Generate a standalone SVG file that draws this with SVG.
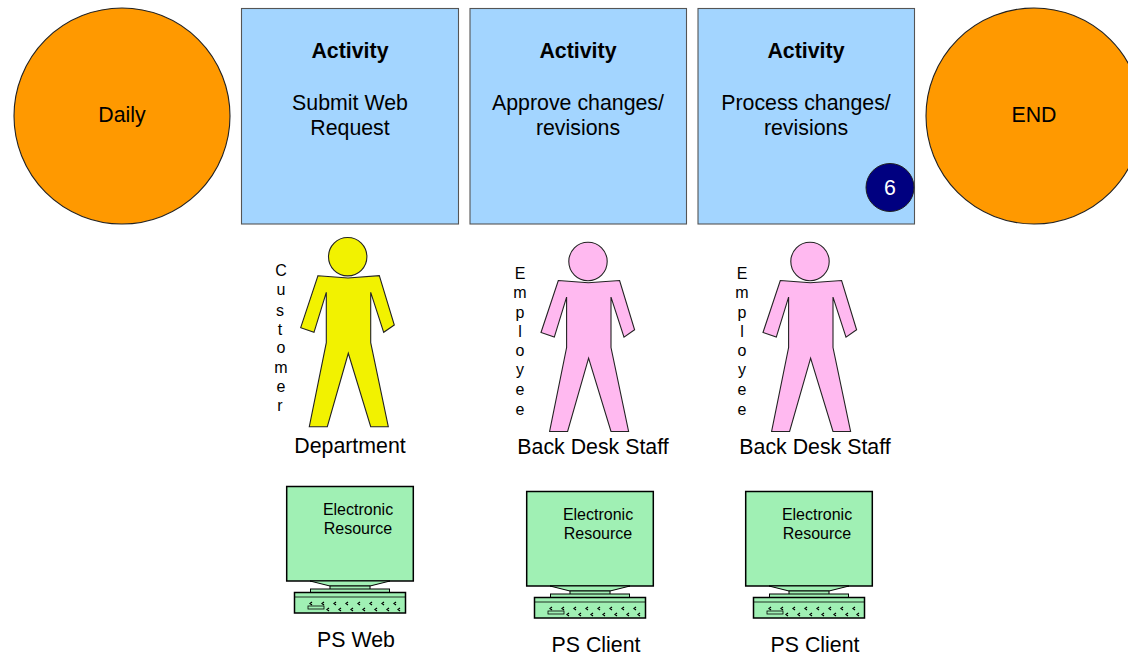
<svg xmlns="http://www.w3.org/2000/svg" width="1128" height="655" viewBox="0 0 1128 655">
<style>
text{font-family:"Liberation Sans",Arial,sans-serif;fill:#000}
.t{font-size:21.330px;text-anchor:middle}
.b{font-weight:bold}
.v{font-size:16px;text-anchor:middle}
.e{font-size:16px;text-anchor:middle}
.box{fill:#a3d5ff;stroke:#555;stroke-width:1.1}
.circ{fill:#ff9900;stroke:#222;stroke-width:1.1}
.p{stroke:#222;stroke-width:1.1;stroke-linejoin:miter}
.k{fill:#a0f0b4;stroke:#000}
.key{fill:none;stroke:#000;stroke-width:1.2}
</style>
<defs>
<g id="person">
<circle cx="347.7" cy="256.7" r="19.2"/>
<path d="M318 275.7L348 278L379.3 275.7L394.3 325L383.7 332.3L370.7 292.3V342.7L388.3 426.7H370.7L348.3 353.3L327.3 426.7H309.3L326.3 342.7V292.3L314 332.3L300.7 327.7Z"/>
</g>
<g id="pc">
<rect class="k" x="286.7" y="486.5" width="126.6" height="94.5" stroke-width="1.5"/>
<path class="k" stroke-width="1" d="M310 581L330 586H370L390 581Z"/>
<rect class="k" x="330" y="586" width="40" height="3.500" stroke-width="1"/>
<rect class="k" x="310.500" y="589" width="79" height="3.500" stroke-width="1"/>
<rect class="k" x="294.500" y="592.500" width="111" height="20.500" stroke-width="1.500"/>
<path class="k" stroke-width="0.800" d="M295 597H405"/>
<rect class="k" x="308" y="606" width="16" height="3" stroke-width="0.800"/>
<path class="key" d="M312 602l-2 1.500 2 1.500M324 602l-2 1.500 2 1.500M336 602l-2 1.500 2 1.500M348 602l-2 1.500 2 1.500M360 602l-2 1.500 2 1.500M372 602l-2 1.500 2 1.500M384 602l-2 1.500 2 1.500M396 602l-2 1.500 2 1.500M329 608l-2 1.500 2 1.500M341 608l-2 1.500 2 1.500M353 608l-2 1.500 2 1.500M365 608l-2 1.500 2 1.500M377 608l-2 1.500 2 1.500M389 608l-2 1.500 2 1.500M400 608l-2 1.500 2 1.500"/>
<text class="e" x="358" y="515">Electronic</text>
<text class="e" x="358" y="534">Resource</text>
</g>
</defs>
<g id="connectors"></g>
<g id="start"><circle class="circ" cx="122" cy="116" r="108"/><text class="t" x="122" y="122">Daily</text></g>
<g id="end"><circle class="circ" cx="1034" cy="116" r="108"/><text class="t" x="1034" y="122">END</text></g>
<g id="activity1"><rect class="box" x="241.500" y="8.500" width="217" height="215.500"/><text class="t b" x="350" y="58">Activity</text><text class="t" x="350" y="110">Submit Web</text><text class="t" x="350" y="135">Request</text></g>
<g id="activity2"><rect class="box" x="470" y="8.500" width="216.500" height="215.500"/><text class="t b" x="578" y="58">Activity</text><text class="t" x="578" y="110">Approve changes/</text><text class="t" x="578" y="135">revisions</text></g>
<g id="activity3"><rect class="box" x="698" y="8.500" width="216.500" height="215.500"/><text class="t b" x="806" y="58">Activity</text><text class="t" x="806" y="110">Process changes/</text><text class="t" x="806" y="135">revisions</text></g>
<g id="badge"><circle cx="890" cy="187.500" r="24" fill="#000080" stroke="#222"/><text class="t" x="890" y="195" style="fill:#fff">6</text></g>
<g id="customer"><use href="#person" fill="#f2f200" class="p"/>
<text class="v" x="281" y="276">C</text><text class="v" x="281" y="295">u</text><text class="v" x="280" y="316">s</text><text class="v" x="280" y="335">t</text><text class="v" x="281" y="353">o</text><text class="v" x="281" y="373">m</text><text class="v" x="281" y="392">e</text><text class="v" x="280" y="411">r</text>
<text class="t" x="350" y="453">Department</text></g>
<g id="employee1"><use href="#person" x="240.300" y="4.800" fill="#ffb9f0" class="p"/>
<text class="v" x="520" y="279">E</text><text class="v" x="520" y="298">m</text><text class="v" x="520" y="318">p</text><text class="v" x="520" y="337">l</text><text class="v" x="520" y="356">o</text><text class="v" x="520" y="375">y</text><text class="v" x="520" y="395">e</text><text class="v" x="520" y="415">e</text>
<text class="t" x="593" y="454">Back Desk Staff</text></g>
<g id="employee2"><use href="#person" x="462.300" y="4.800" fill="#ffb9f0" class="p"/>
<text class="v" x="742" y="279">E</text><text class="v" x="742" y="298">m</text><text class="v" x="742" y="318">p</text><text class="v" x="742" y="337">l</text><text class="v" x="742" y="356">o</text><text class="v" x="742" y="375">y</text><text class="v" x="742" y="395">e</text><text class="v" x="742" y="415">e</text>
<text class="t" x="815" y="454">Back Desk Staff</text></g>
<g id="pc1"><use href="#pc"/><text class="t" x="356" y="647">PS Web</text></g>
<g id="pc2"><use href="#pc" x="240" y="5"/><text class="t" x="596" y="652">PS Client</text></g>
<g id="pc3"><use href="#pc" x="459" y="5"/><text class="t" x="815" y="652">PS Client</text></g>
</svg>
